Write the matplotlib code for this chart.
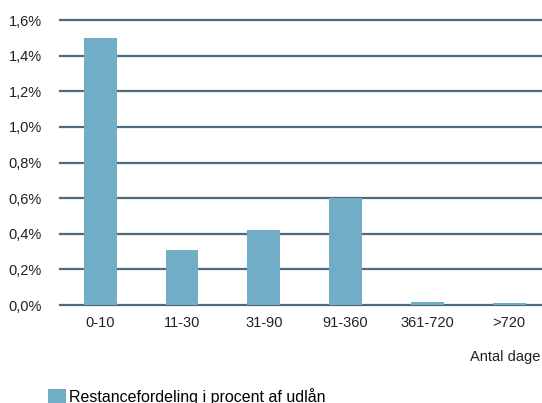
import numpy as np
import matplotlib.pyplot as plt
from matplotlib.ticker import FuncFormatter

# data
categories = ["0-10", "11-30", "31-90", "91-360", "361-720", ">720"]
values = [1.50, 0.31, 0.42, 0.60, 0.017, 0.01]
yticks = [0.0, 0.2, 0.4, 0.6, 0.8, 1.0, 1.2, 1.4, 1.6]

bar_color = "#72adc8"
grid_color = "#4d6b80"

plt.rcParams["font.family"] = ["Liberation Sans", "DejaVu Sans"]

fig = plt.figure(figsize=(5.42, 4.03), dpi=100)
ax = fig.add_axes([0.111, 0.243, 0.889, 0.707])

x = np.arange(len(categories))
ax.bar(x, values, width=0.4, color=bar_color, zorder=3,
       label="Restancefordeling i procent af udlån")

for y in yticks:
    ax.axhline(y, color=grid_color, linewidth=1.6, zorder=1, clip_on=False)

ax.set_ylim(0, 1.6)
ax.set_xlim(-0.49, 5.4)
ax.set_yticks(yticks)
ax.yaxis.set_major_formatter(FuncFormatter(lambda v, p: f"{v:.1f}%".replace(".", ",")))
ax.set_xticks(x)
ax.set_xticklabels(categories)
ax.tick_params(length=0, labelsize=10.5, colors="#222222")
ax.tick_params(axis="x", pad=8)
ax.tick_params(axis="y", pad=13)
for s in ax.spines.values():
    s.set_visible(False)

fig.text(0.997, 0.114, "Antal dage", ha="right", va="center", fontsize=10.5, color="#222222")

fig.legend(loc="lower left", bbox_to_anchor=(0.062, -0.04), frameon=False,
           fontsize=11.5, handlelength=1.1, handleheight=1.1, handletextpad=0.2)

fig.savefig("out.png", dpi=100)
